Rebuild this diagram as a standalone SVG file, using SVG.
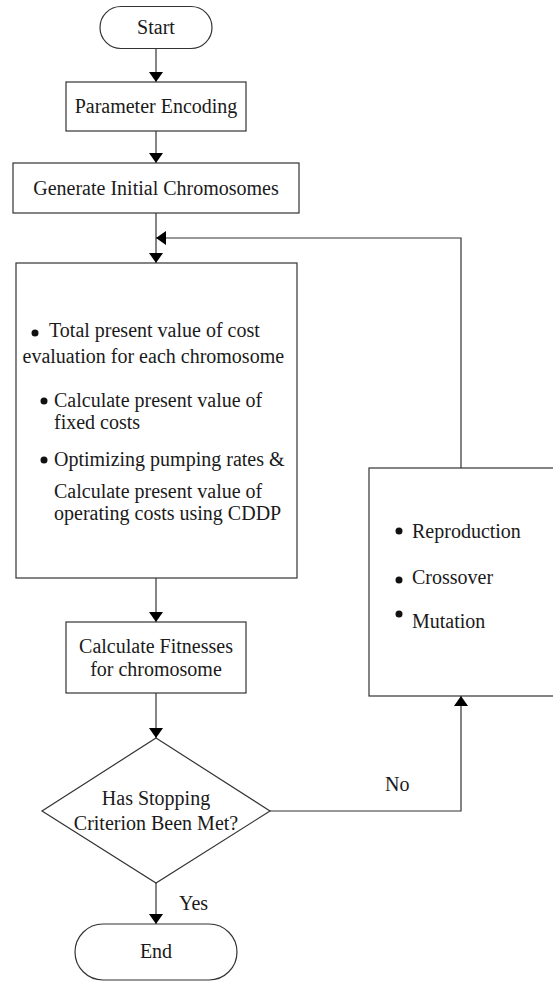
<svg xmlns="http://www.w3.org/2000/svg" width="553" height="981" viewBox="0 0 553 981">
<defs>
<marker id="ah" viewBox="0 0 10 14" refX="10" refY="7" markerWidth="10" markerHeight="14" markerUnits="userSpaceOnUse" orient="auto">
<path d="M0,0 L10,7 L0,14 Z" fill="#000"/>
</marker>
<style>
.sh{fill:#fff;stroke:#333;stroke-width:1.2}
.t{font-family:"Liberation Serif","Times New Roman",serif;font-size:20px;fill:#1a1a1a}
.m{text-anchor:middle}
.ln{fill:none;stroke:#333;stroke-width:1.2}
.b{fill:#111}
</style>
</defs>
<rect width="553" height="981" fill="#fff"/>
<g id="connectors">
<line class="ln" x1="156" y1="48" x2="156" y2="82" marker-end="url(#ah)"/>
<line class="ln" x1="156" y1="131" x2="156" y2="163" marker-end="url(#ah)"/>
<line class="ln" x1="156" y1="213" x2="156" y2="263" marker-end="url(#ah)"/>
<polyline class="ln" points="461,468 461,238 156,238" marker-end="url(#ah)"/>
<line class="ln" x1="156" y1="578" x2="156" y2="622" marker-end="url(#ah)"/>
<line class="ln" x1="156" y1="693" x2="156" y2="738" marker-end="url(#ah)"/>
<polyline class="ln" points="270,811 461,811 461,696" marker-end="url(#ah)"/>
<line class="ln" x1="156" y1="883" x2="156" y2="924" marker-end="url(#ah)"/>
<text class="t" x="385" y="791">No</text>
<text class="t" x="179" y="910">Yes</text>
</g>
<g id="start">
<rect class="sh" x="100" y="6.5" width="112" height="42" rx="21" ry="21"/>
<text class="t m" x="156" y="34">Start</text>
</g>
<g id="encoding">
<rect class="sh" x="66" y="82" width="180" height="49"/>
<text class="t m" x="156" y="113">Parameter Encoding</text>
</g>
<g id="generate">
<rect class="sh" x="13" y="163" width="286" height="50"/>
<text class="t m" x="156" y="195">Generate Initial Chromosomes</text>
</g>
<g id="evaluate">
<rect class="sh" x="16" y="263" width="281" height="315"/>
<circle class="b" cx="35" cy="333" r="3.5"/>
<text class="t" x="49" y="337">Total present value of cost</text>
<text class="t" x="22.5" y="363">evaluation for each chromosome</text>
<circle class="b" cx="44" cy="401" r="3.5"/>
<text class="t" x="54" y="407">Calculate present value of</text>
<text class="t" x="54" y="429">fixed costs</text>
<circle class="b" cx="44" cy="460" r="3.5"/>
<text class="t" x="54" y="466">Optimizing pumping rates &amp;</text>
<text class="t" x="54" y="498">Calculate present value of</text>
<text class="t" x="54" y="520">operating costs using CDDP</text>
</g>
<g id="operators">
<rect class="sh" x="369" y="468" width="200" height="228"/>
<circle class="b" cx="399" cy="531" r="3.5"/>
<text class="t" x="412" y="538">Reproduction</text>
<circle class="b" cx="399" cy="580" r="3.5"/>
<text class="t" x="412" y="584">Crossover</text>
<circle class="b" cx="399" cy="614" r="3.5"/>
<text class="t" x="412" y="628">Mutation</text>
</g>
<g id="fitness">
<rect class="sh" x="66" y="622" width="180" height="71"/>
<text class="t m" x="156" y="653">Calculate Fitnesses</text>
<text class="t m" x="156" y="676">for chromosome</text>
</g>
<g id="decision">
<polygon class="sh" points="156,738 270,811 156,883 42,811"/>
<text class="t m" x="156" y="805">Has Stopping</text>
<text class="t m" x="156" y="830">Criterion Been Met?</text>
</g>
<g id="end">
<rect class="sh" x="75" y="924" width="162" height="56" rx="28" ry="28"/>
<text class="t m" x="156" y="958">End</text>
</g>
</svg>
